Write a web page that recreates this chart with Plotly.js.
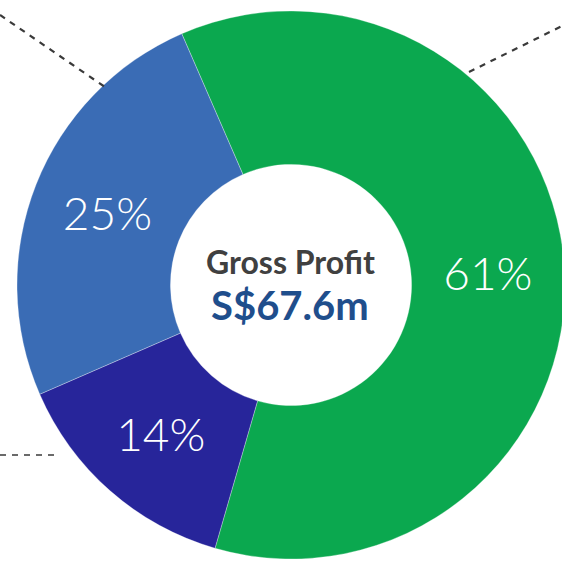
<!DOCTYPE html>
<html>
<head>
<meta charset="utf-8">
<script src="https://cdn.plot.ly/plotly-3.0.1.min.js"></script>
<style>
html,body{margin:0;padding:0;overflow:hidden;background:#fff;}
#chart{width:570px;height:561px;}
</style>
</head>
<body>
<div id="chart"></div>
<script>
var segments = ["Segment A", "Segment B", "Segment C"];
var shares = [61, 14, 25];
var sliceColors = ["#0ba84f", "#27259a", "#3a6cb5"];
var centerTitle = "Gross Profit";
var centerValue = "S$67.6m";

var W = 570, H = 561;
function px(x){return x / W;}
function py(y){return 1 - y / H;}

var trace = {
  type: "pie",
  labels: segments,
  values: shares,
  sort: false,
  direction: "clockwise",
  rotation: -23.5,
  hole: 0.44,
  domain: {x: [px(17), px(565)], y: [py(559), py(11)]},
  marker: {colors: sliceColors, line: {color: "rgba(255,255,255,0.3)", width: 1}},
  texttemplate: "%{value}%",
  textposition: "inside",
  insidetextorientation: "horizontal",
  insidetextfont: {color: "#ffffff", size: 46, family: "Lato, 'DejaVu Sans', sans-serif", weight: 300},
  hoverinfo: "none",
  showlegend: false
};

var dash = {color: "#3a3a3a", width: 2.2, dash: "6px,6px"};
var layout = {
  width: W, height: H,
  margin: {l: 0, r: 0, t: 0, b: 0},
  paper_bgcolor: "#ffffff",
  showlegend: false,
  shapes: [
    {type: "line", xref: "paper", yref: "paper", x0: px(0), y0: py(15), x1: px(105), y1: py(87), line: dash},
    {type: "line", xref: "paper", yref: "paper", x0: px(469), y0: py(72), x1: px(562), y1: py(26), line: dash},
    {type: "line", xref: "paper", yref: "paper", x0: px(0), y0: py(455), x1: px(60), y1: py(455), line: {color: "#3a3a3a", width: 1.5, dash: "6px,6px"}}
  ],
  annotations: [
    {text: centerTitle, xref: "paper", yref: "paper", x: px(290), y: py(261), showarrow: false,
     xanchor: "center", yanchor: "middle",
     font: {family: "Lato, 'DejaVu Sans', sans-serif", size: 32, color: "#404040", weight: 700}},
    {text: centerValue, xref: "paper", yref: "paper", x: px(290), y: py(305), showarrow: false,
     xanchor: "center", yanchor: "middle",
     font: {family: "Lato, 'DejaVu Sans', sans-serif", size: 40, color: "#1f4e8c", weight: 700}}
  ]
};

Plotly.newPlot("chart", [trace], layout, {displayModeBar: false, staticPlot: true});
</script>
</body>
</html>
